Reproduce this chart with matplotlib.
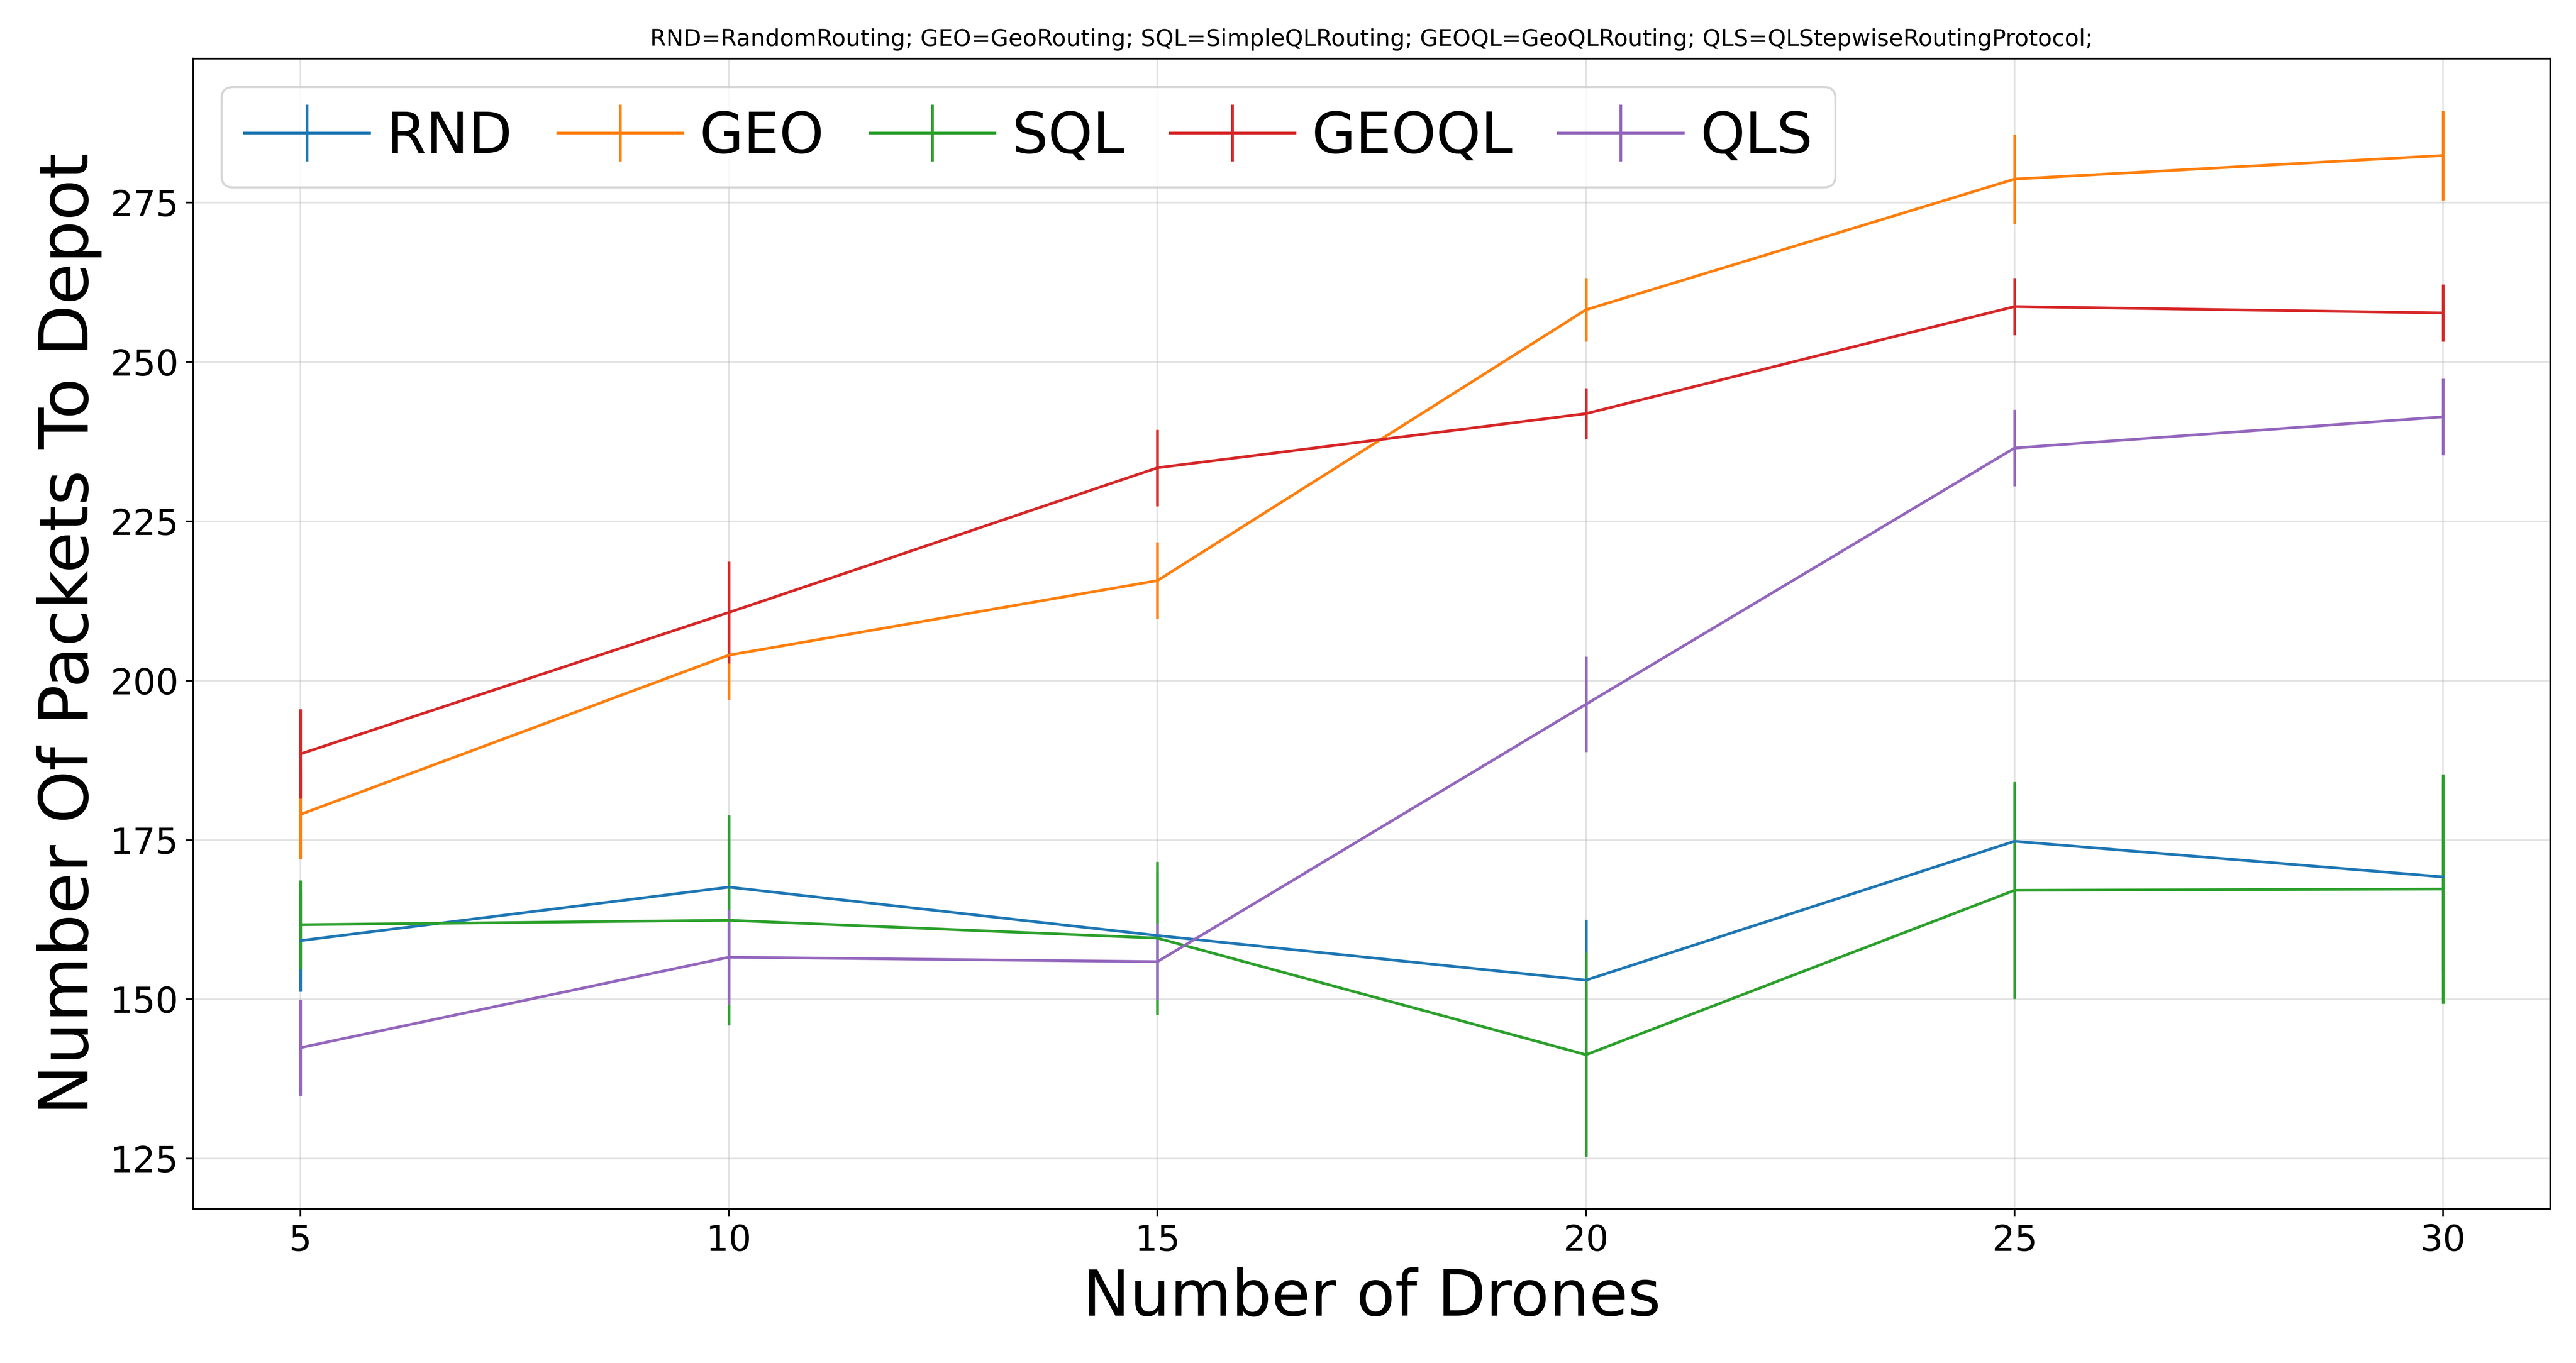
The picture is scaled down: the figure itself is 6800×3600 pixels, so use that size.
import numpy as np
import matplotlib.pyplot as plt

drones = [5, 10, 15, 20, 25, 30]

rnd = [159.2, 167.6, 160.0, 153.0, 174.8, 169.2]
rnd_err = [8, 11, 10, 9.5, 9, 15]
geo = [179.0, 204.0, 215.7, 258.2, 278.7, 282.4]
geo_err = [7, 7, 6, 5, 7, 7]
sql = [161.7, 162.4, 159.6, 141.3, 167.1, 167.3]
sql_err = [7, 16.5, 12, 16, 17, 18]
geoql = [188.5, 210.7, 233.4, 241.9, 258.7, 257.7]
geoql_err = [7, 8, 6, 4, 4.5, 4.5]
qls = [142.4, 156.6, 155.9, 196.3, 236.5, 241.4]
qls_err = [7.5, 7.5, 6, 7.5, 6, 6]

series = [('RND', rnd, rnd_err), ('GEO', geo, geo_err), ('SQL', sql, sql_err),
          ('GEOQL', geoql, geoql_err), ('QLS', qls, qls_err)]

fig, ax = plt.subplots(figsize=(17, 9), dpi=400)
fig.subplots_adjust(left=0.075, right=0.99, top=0.957, bottom=0.113)

for name, vals, err in series:
    ax.errorbar(drones, vals, yerr=err, label=name, linewidth=1.3, elinewidth=1.3)

ax.set_xticks(drones)
ax.set_yticks([125, 150, 175, 200, 225, 250, 275])
ax.tick_params(labelsize=17)
ax.grid(alpha=0.35)
ax.set_xlabel('Number of Drones', fontsize=30)
ax.set_ylabel('Number Of Packets To Depot', fontsize=32)
ax.set_title('RND=RandomRouting; GEO=GeoRouting; SQL=SimpleQLRouting; '
             'GEOQL=GeoQLRouting; QLS=QLStepwiseRoutingProtocol;', fontsize=11)
ax.legend(loc='upper left', ncol=5, fontsize=27, handlelength=2.2,
          columnspacing=0.8, handletextpad=0.3)

fig.savefig('out.png')
